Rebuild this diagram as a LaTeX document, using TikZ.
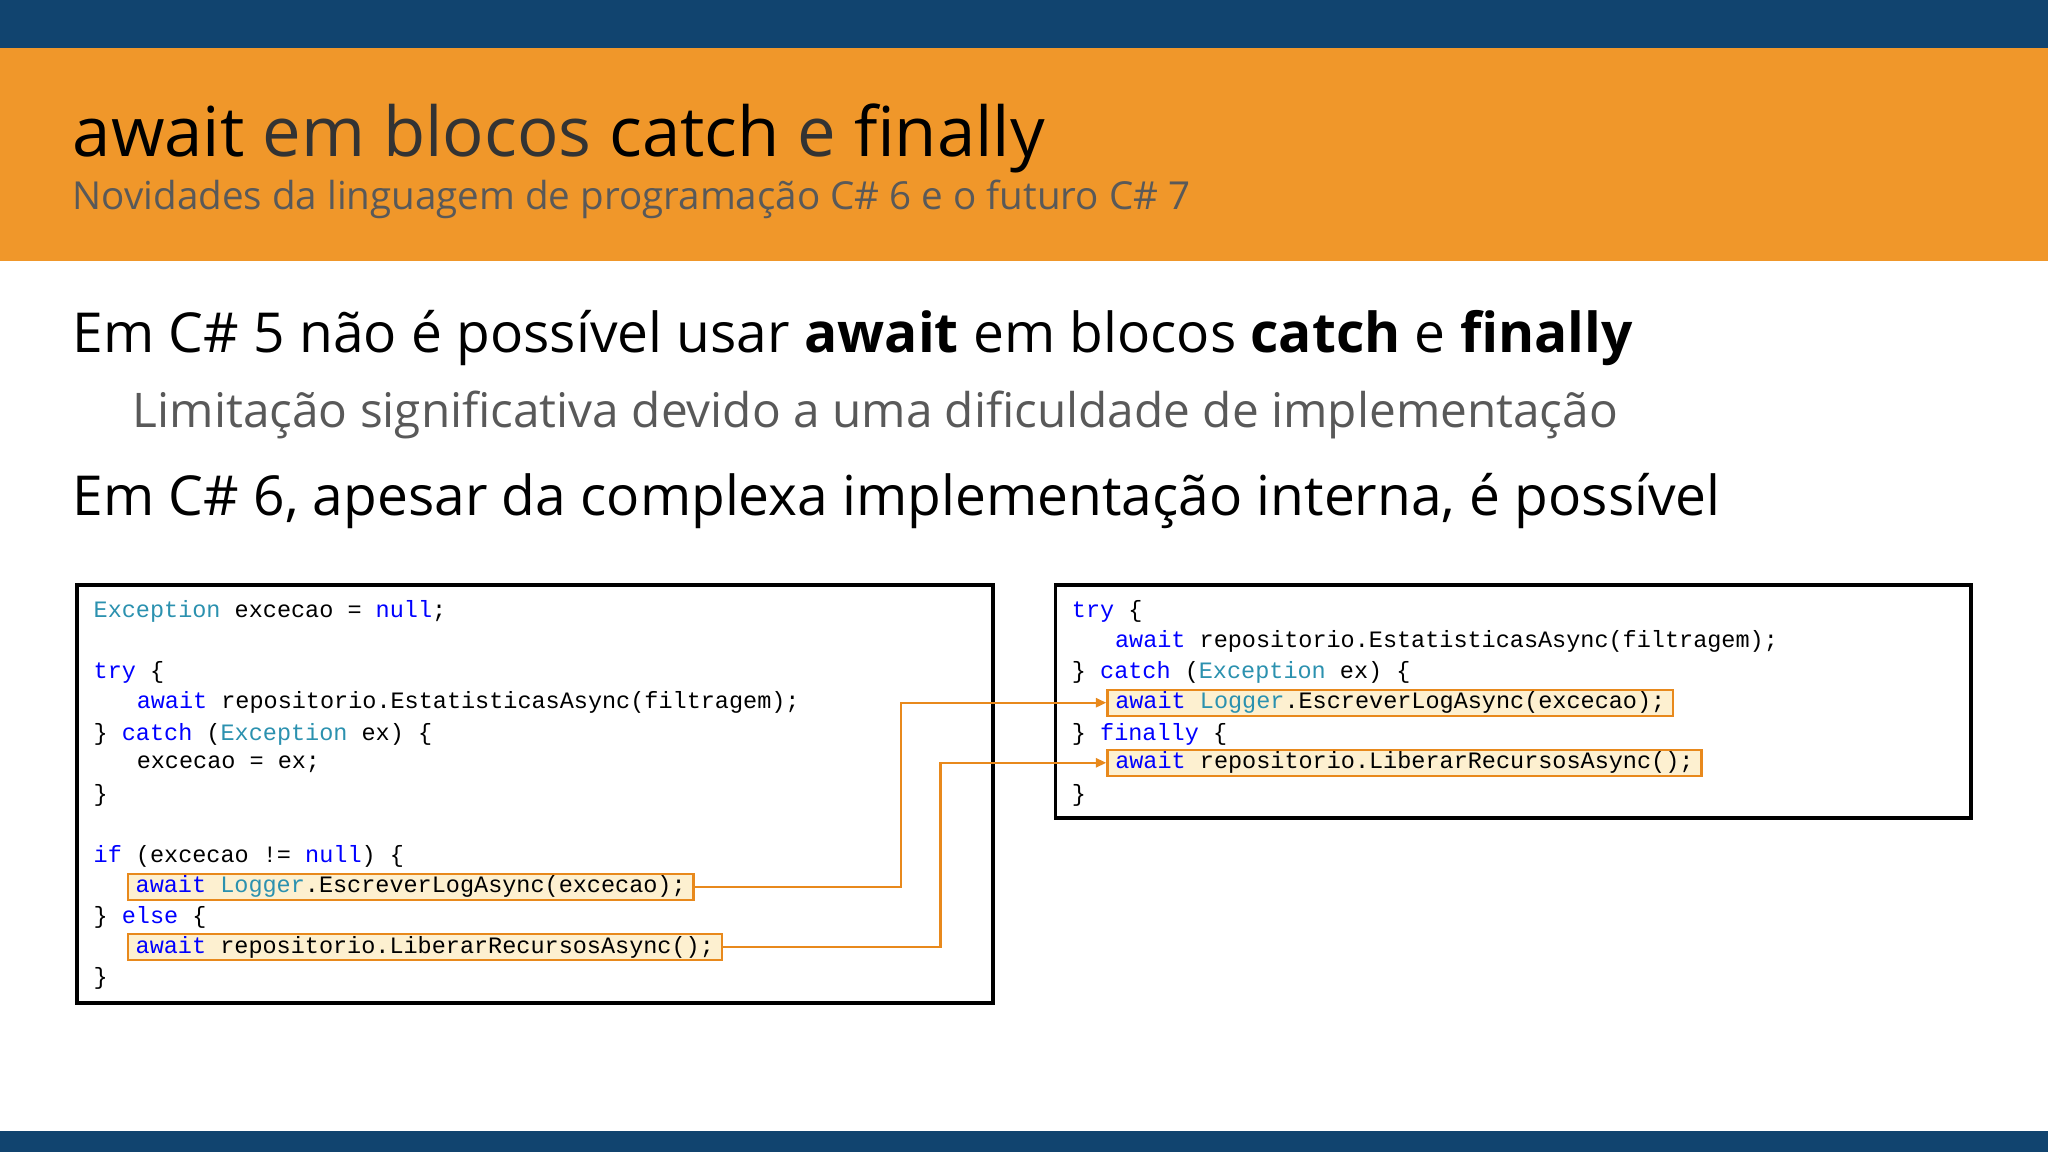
\documentclass[tikz,border=0pt]{standalone}
\usepackage{fontspec}
\setmainfont{Open Sans}
\setmonofont{Liberation Mono}
\usetikzlibrary{arrows.meta}
\definecolor{navy}{HTML}{11446F}
\definecolor{orng}{HTML}{F0972A}
\definecolor{kw}{HTML}{0000FF}
\definecolor{ty}{HTML}{2B91AF}
\definecolor{hl}{HTML}{FDF0D0}
\definecolor{hlb}{HTML}{E8891C}
\newcommand{\K}[1]{\textcolor{kw}{#1}}
\newcommand{\T}[1]{\textcolor{ty}{#1}}
\begin{document}
\begin{tikzpicture}[x=1cm,y=1cm,
  code/.style={anchor=west,inner sep=0pt,font=\ttfamily\fontsize{5.12}{6}\selectfont},
  hlbox/.style={code,fill=hl,draw=hlb,line width=0.5pt,inner xsep=0.06cm,minimum height=0.2cm},
  codebox/.style={draw=black,line width=0.8pt},
  conn/.style={draw=hlb,line width=0.5pt,-{Triangle[length=0.08cm,width=0.07cm]}}]
\useasboundingbox (0,0) rectangle (15.68,-8.82);
\fill[navy] (0,0) rectangle (15.68,-0.37);
\fill[orng] (0,-0.37) rectangle (15.68,-2.0);
\fill[navy] (0,-8.66) rectangle (15.68,-8.82);
\node[anchor=base west,inner sep=0pt,font=\fontsize{15}{18}\selectfont] (title) at (0.55,-1.20)
  {await {\color{black!80}em blocos} catch {\color{black!80}e} finally};
\node[anchor=base west,inner sep=0pt,text=black!65,font=\fontsize{8.4}{10}\selectfont] (sub) at (0.55,-1.60)
  {Novidades da linguagem de programação C\# 6 e o futuro C\# 7};
\node[anchor=base west,inner sep=0pt,font=\fontsize{12}{14}\selectfont] (b1) at (0.55,-2.70)
  {Em C\# 5 não é possível usar \textbf{await} em blocos \textbf{catch} e \textbf{finally}};
\node[anchor=base west,inner sep=0pt,text=black!65,font=\fontsize{10.4}{12}\selectfont] (b2) at (1.01,-3.27)
  {Limitação significativa devido a uma dificuldade de implementação};
\node[anchor=base west,inner sep=0pt,font=\fontsize{12}{14}\selectfont] (b3) at (0.55,-3.95)
  {Em C\# 6, apesar da complexa implementação interna, é possível};
% boxes
\draw[codebox] (0.59,-4.48) rectangle (7.60,-7.68);
\draw[codebox] (8.08,-4.48) rectangle (15.09,-6.26);
% left code
\node[code] (l1) at (0.71,-4.68) {\T{Exception} excecao = \K{null};};
\node[code] (l2) at (0.71,-5.15) {\K{try} \{};
\node[code] (l3) at (1.04,-5.38) {\K{await} repositorio.EstatisticasAsync(filtragem);};
\node[code] (l4) at (0.71,-5.62) {\} \K{catch} (\T{Exception} ex) \{};
\node[code] (l5) at (1.04,-5.85) {excecao = ex;};
\node[code] (l6) at (0.71,-6.09) {\}};
\node[code] (l7) at (0.71,-6.56) {\K{if} (excecao != \K{null}) \{};
\node[hlbox] (h1) at (0.97,-6.79) {\K{await} \T{Logger}.EscreverLogAsync(excecao);};
\node[code] (l8) at (0.71,-7.02) {\} \K{else} \{};
\node[hlbox] (h2) at (0.97,-7.25) {\K{await} repositorio.LiberarRecursosAsync();};
\node[code] (l9) at (0.71,-7.49) {\}};
% right code
\node[code] (r1) at (8.20,-4.68) {\K{try} \{};
\node[code] (r2) at (8.53,-4.91) {\K{await} repositorio.EstatisticasAsync(filtragem);};
\node[code] (r3) at (8.20,-5.15) {\} \K{catch} (\T{Exception} ex) \{};
\node[hlbox] (g1) at (8.47,-5.38) {\K{await} \T{Logger}.EscreverLogAsync(excecao);};
\node[code] (r4) at (8.20,-5.62) {\} \K{finally} \{};
\node[hlbox] (g2) at (8.47,-5.84) {\K{await} repositorio.LiberarRecursosAsync();};
\node[code] (r5) at (8.20,-6.09) {\}};
% connectors
\coordinate (c1) at (6.90,-6.0);
\coordinate (c2) at (7.20,-6.0);
\draw[conn] (h1.east) -- (h1.east -| c1) -- (c1 |- g1.west) -- (g1.west);
\draw[conn] (h2.east) -- (h2.east -| c2) -- (c2 |- g2.west) -- (g2.west);
\end{tikzpicture}
\end{document}
